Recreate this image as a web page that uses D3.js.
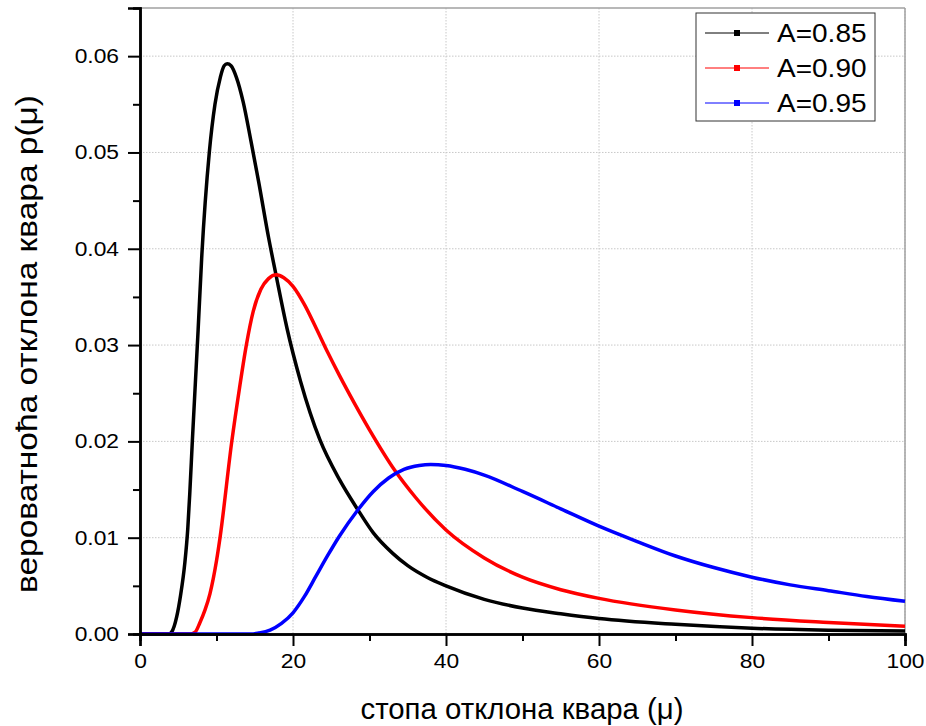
<!DOCTYPE html>
<html lang="sr">
<head>
    <meta charset="UTF-8">
    <title>Вероватноћа отклона квара</title>
    <style>
        body { margin: 0; background: #fff; }
        svg { display: block; font-family: "Liberation Sans", Arial, sans-serif; }
        .grid line { stroke: #c8c8c8; stroke-width: 1; stroke-dasharray: 1.5,1.5; }
    </style>
    <script src="https://d3js.org/d3.v7.min.js"></script>
</head>
<body>
    <div id="chart"></div>
    <script>
        // Values
        const xBlack = [0, 3.8, 4.14, 4.8, 5.3, 5.85, 6.25, 6.5, 6.84, 7.6, 8.06, 9.06, 9.8, 10.5, 11.0, 11.4, 11.9, 12.6, 13.5, 14.5, 15.5, 16.8, 17.8, 19.2, 21, 23.5, 26.1, 28.4, 30.5, 33, 35, 37.5, 40, 45, 50, 55, 60, 70, 80, 90, 100];
        const yBlack = [0, 0, 0.0002, 0.0018, 0.0040, 0.0073, 0.0110, 0.0145, 0.0200, 0.0316, 0.0390, 0.0500, 0.0550, 0.0578, 0.0590, 0.0592, 0.0590, 0.0578, 0.0552, 0.0512, 0.0470, 0.0412, 0.0372, 0.0318, 0.0262, 0.0202, 0.0160, 0.0130, 0.0105, 0.0084, 0.0071, 0.0059, 0.0050, 0.0036, 0.0027, 0.0021, 0.0016, 0.0010, 0.0006, 0.0004, 0.0003];

        const xRed = [0, 6.5, 7.2, 7.84, 8.5, 9.15, 10.0, 10.46, 12.0, 13.0, 13.9, 14.8, 15.8, 16.8, 17.8, 18.8, 20, 21.5, 23, 24.5, 26.1, 28, 30, 33.3, 36, 40, 45, 50, 55, 60, 70, 80, 90, 100];
        const yRed = [0, 0, 0.0002, 0.0012, 0.0025, 0.0042, 0.0076, 0.0100, 0.0200, 0.0255, 0.0300, 0.0335, 0.0358, 0.0369, 0.0373, 0.0370, 0.0361, 0.0342, 0.0318, 0.0293, 0.0268, 0.0240, 0.0212, 0.0170, 0.0142, 0.0108, 0.0079, 0.0059, 0.0046, 0.0037, 0.0025, 0.0017, 0.0012, 0.0008];

        const xBlue = [0, 14.5, 15.5, 17, 18.5, 20, 21.5, 23, 24.5, 26.1, 28.4, 30.5, 32.5, 34.5, 36.5, 38, 40, 42.5, 45, 50, 55, 60, 65, 70, 75, 80, 85, 90, 95, 100];
        const yBlue = [0, 0, 0.0001, 0.0004, 0.0011, 0.0022, 0.0039, 0.0060, 0.0081, 0.0102, 0.0128, 0.0148, 0.0162, 0.0171, 0.0175, 0.0176, 0.0175, 0.0171, 0.0165, 0.0148, 0.0130, 0.0112, 0.0096, 0.0081, 0.0069, 0.0059, 0.0051, 0.0045, 0.0039, 0.0034];

        const seriesNames = ["A=0.85", "A=0.90", "A=0.95"];
        const seriesColors = ["#000000", "#ff0000", "#0000ff"];
        const xTicks = [0, 20, 40, 60, 80, 100];
        const xMinorTicks = [10, 30, 50, 70, 90];
        const yTicks = [0, 0.01, 0.02, 0.03, 0.04, 0.05, 0.06];
        const yMinorTicks = [0.005, 0.015, 0.025, 0.035, 0.045, 0.055];
        const xTitle = "стопа отклона квара (μ)";
        const yTitle = "вероватноћа отклона квара p(μ)";

        const width = 926;
        const height = 726;
        const margin = { top: 8, right: 21, bottom: 92, left: 140 };
        const innerW = width - margin.left - margin.right;
        const innerH = height - margin.top - margin.bottom;

        const series = [
            { name: seriesNames[0], color: seriesColors[0], values: xBlack.map((x, i) => ({ x: x, y: yBlack[i] })) },
            { name: seriesNames[1], color: seriesColors[1], values: xRed.map((x, i) => ({ x: x, y: yRed[i] })) },
            { name: seriesNames[2], color: seriesColors[2], values: xBlue.map((x, i) => ({ x: x, y: yBlue[i] })) }
        ];

        // stretch text horizontally, the original figure is a bit wider than Arial
        function widen(sel, k) {
            sel.attr("textLength", function() { return this.getComputedTextLength() * k; })
               .attr("lengthAdjust", "spacingAndGlyphs");
        }

        const svg = d3.select("#chart")
            .append("svg")
            .attr("width", width)
            .attr("height", height);

        const g = svg.append("g")
            .attr("transform", `translate(${margin.left},${margin.top})`);

        const x = d3.scaleLinear().domain([0, 100]).range([0, innerW]);
        const y = d3.scaleLinear().domain([0, 0.065]).range([innerH, 0]);

        // Grid lines (dotted)
        g.append("g").attr("class", "grid")
            .selectAll("line")
            .data(xTicks.slice(1))
            .enter().append("line")
            .attr("x1", d => x(d)).attr("x2", d => x(d))
            .attr("y1", 0).attr("y2", innerH);

        g.append("g").attr("class", "grid")
            .selectAll("line")
            .data(yTicks.slice(1))
            .enter().append("line")
            .attr("x1", 0).attr("x2", innerW)
            .attr("y1", d => y(d)).attr("y2", d => y(d));

        // Gray frame on top and right
        g.append("line")
            .attr("x1", 0).attr("x2", innerW).attr("y1", 0).attr("y2", 0)
            .attr("stroke", "#a0a0a0").attr("stroke-width", 1.5);
        g.append("line")
            .attr("x1", innerW).attr("x2", innerW).attr("y1", 0).attr("y2", innerH)
            .attr("stroke", "#a0a0a0").attr("stroke-width", 1.5);

        // Curves
        const line = d3.line()
            .x(d => x(d.x))
            .y(d => y(d.y))
            .curve(d3.curveMonotoneX);

        g.append("g")
            .selectAll("path")
            .data(series)
            .enter().append("path")
            .attr("d", d => line(d.values))
            .attr("fill", "none")
            .attr("stroke", d => d.color)
            .attr("stroke-width", 3.5)
            .attr("stroke-linejoin", "round");

        // Axes
        const xAxis = g.append("g")
            .attr("transform", `translate(0,${innerH})`)
            .call(d3.axisBottom(x).tickValues(xTicks).tickFormat(d3.format("d")).tickSize(12).tickPadding(8));
        xAxis.append("g")
            .call(d3.axisBottom(x).tickValues(xMinorTicks).tickFormat("").tickSize(7));

        const yAxis = g.append("g")
            .call(d3.axisLeft(y).tickValues(yTicks).tickFormat(d3.format(".2f")).tickSize(12).tickPadding(9));
        yAxis.append("g")
            .call(d3.axisLeft(y).tickValues(yMinorTicks).tickFormat("").tickSize(7));

        svg.selectAll(".domain").attr("stroke", "#000").attr("stroke-width", 2.5);
        svg.selectAll(".tick line").attr("stroke", "#000").attr("stroke-width", 2);
        svg.selectAll(".tick text").attr("font-size", 20).attr("fill", "#000")
            .attr("font-family", "Liberation Sans, Arial, sans-serif")
            .call(widen, 1.14);

        // Axis titles
        svg.append("text")
            .attr("x", 522)
            .attr("y", 719)
            .attr("text-anchor", "middle")
            .attr("font-size", 29)
            .attr("textLength", 323)
            .attr("lengthAdjust", "spacingAndGlyphs")
            .text(xTitle);

        svg.append("text")
            .attr("transform", "translate(37,344) rotate(-90)")
            .attr("text-anchor", "middle")
            .attr("font-size", 29)
            .attr("textLength", 498)
            .attr("lengthAdjust", "spacingAndGlyphs")
            .text(yTitle);

        // Legend
        const legend = svg.append("g").attr("transform", "translate(696,13)");
        legend.append("rect")
            .attr("width", 179).attr("height", 108)
            .attr("fill", "#fff").attr("stroke", "#333").attr("stroke-width", 1);

        const item = legend.selectAll(".item")
            .data(series)
            .enter().append("g")
            .attr("class", "item")
            .attr("transform", (d, i) => `translate(0,${20 + i * 35})`);
        item.append("line")
            .attr("x1", 9).attr("x2", 73)
            .attr("stroke", d => d.color).attr("stroke-width", 1);
        item.append("rect")
            .attr("x", 38).attr("y", -3).attr("width", 6).attr("height", 6)
            .attr("fill", d => d.color);
        item.append("text")
            .attr("x", 81).attr("y", 9)
            .attr("font-size", 25)
            .text(d => d.name)
            .call(widen, 1.12);
    </script>
</body>
</html>
